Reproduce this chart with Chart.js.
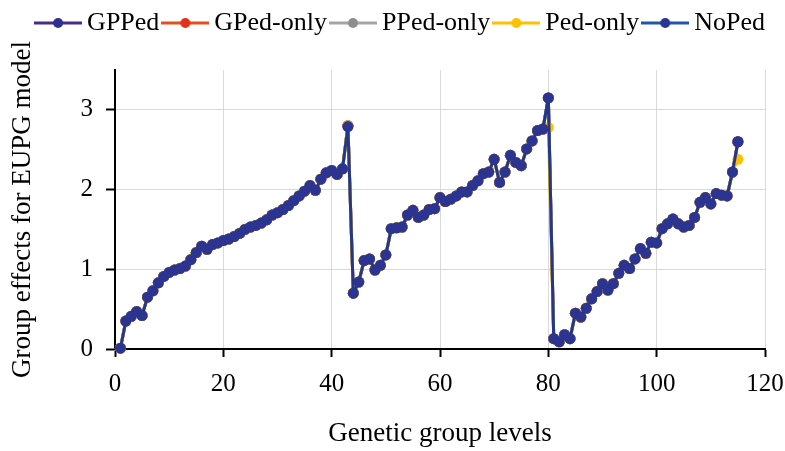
<!DOCTYPE html>
<html>
<head>
<meta charset="utf-8">
<script src="https://cdn.jsdelivr.net/npm/chart.js@4"></script>
<style>
  html, body { margin: 0; padding: 0; background: #fff; }
  #wrap { width: 785px; height: 451px; }
</style>
</head>
<body>
<div id="wrap"><canvas id="chart"></canvas></div>
<script>
// values, genetic group levels 1..115
const noPed = [
  0.01, 0.35, 0.41, 0.47, 0.42, 0.65, 0.73, 0.83, 0.91, 0.96,
  0.99, 1.01, 1.04, 1.12, 1.21, 1.29, 1.25, 1.31, 1.33, 1.36,
  1.38, 1.41, 1.45, 1.50, 1.53, 1.55, 1.58, 1.62, 1.68, 1.71,
  1.75, 1.80, 1.86, 1.92, 1.98, 2.05, 1.99, 2.13, 2.21, 2.24,
  2.19, 2.26, 2.79,
  0.70, 0.84, 1.11, 1.13, 0.99, 1.05, 1.18, 1.51, 1.52, 1.53,
  1.68, 1.74, 1.65, 1.68, 1.75, 1.76, 1.90, 1.85, 1.88, 1.92,
  1.97, 1.97, 2.05, 2.11, 2.20, 2.22, 2.38, 2.09, 2.22, 2.43,
  2.34, 2.30, 2.51, 2.61, 2.74, 2.76, 3.15,
  0.13, 0.09, 0.18, 0.13, 0.45, 0.40, 0.51, 0.63, 0.72, 0.82,
  0.74, 0.82, 0.95, 1.05, 1.01, 1.13, 1.26, 1.20, 1.34, 1.33,
  1.51, 1.57, 1.63, 1.57, 1.53, 1.55, 1.65, 1.84, 1.90, 1.82,
  1.95, 1.93, 1.92, 2.22, 2.60
];

// Ped-only sits under NoPed except at the last two peaks
const pedOnly = [
  0.01, 0.35, 0.41, 0.47, 0.42, 0.65, 0.73, 0.83, 0.91, 0.96,
  0.99, 1.01, 1.04, 1.12, 1.21, 1.29, 1.25, 1.31, 1.33, 1.36,
  1.38, 1.41, 1.45, 1.50, 1.53, 1.55, 1.58, 1.62, 1.68, 1.71,
  1.75, 1.80, 1.86, 1.92, 1.98, 2.05, 1.99, 2.13, 2.21, 2.24,
  2.19, 2.26, 2.80,
  0.70, 0.84, 1.11, 1.13, 0.99, 1.05, 1.18, 1.51, 1.52, 1.53,
  1.68, 1.74, 1.65, 1.68, 1.75, 1.76, 1.90, 1.85, 1.88, 1.92,
  1.97, 1.97, 2.05, 2.11, 2.20, 2.22, 2.38, 2.09, 2.22, 2.43,
  2.34, 2.30, 2.51, 2.61, 2.74, 2.76, 2.78,
  0.13, 0.09, 0.18, 0.13, 0.45, 0.40, 0.51, 0.63, 0.72, 0.82,
  0.74, 0.82, 0.95, 1.05, 1.01, 1.13, 1.26, 1.20, 1.34, 1.33,
  1.51, 1.57, 1.63, 1.57, 1.53, 1.55, 1.65, 1.84, 1.90, 1.82,
  1.95, 1.93, 1.92, 2.22, 2.38
];

// GPPed, GPed-only and PPed-only are hidden under NoPed everywhere
const pedigreeModels = [
  0.01, 0.35, 0.41, 0.47, 0.42, 0.65, 0.73, 0.83, 0.91, 0.96,
  0.99, 1.01, 1.04, 1.12, 1.21, 1.29, 1.25, 1.31, 1.33, 1.36,
  1.38, 1.41, 1.45, 1.50, 1.53, 1.55, 1.58, 1.62, 1.68, 1.71,
  1.75, 1.80, 1.86, 1.92, 1.98, 2.05, 1.99, 2.13, 2.21, 2.24,
  2.19, 2.26, 2.80,
  0.70, 0.84, 1.11, 1.13, 0.99, 1.05, 1.18, 1.51, 1.52, 1.53,
  1.68, 1.74, 1.65, 1.68, 1.75, 1.76, 1.90, 1.85, 1.88, 1.92,
  1.97, 1.97, 2.05, 2.11, 2.20, 2.22, 2.38, 2.09, 2.22, 2.43,
  2.34, 2.30, 2.51, 2.61, 2.74, 2.76, 3.15,
  0.13, 0.09, 0.18, 0.13, 0.45, 0.40, 0.51, 0.63, 0.72, 0.82,
  0.74, 0.82, 0.95, 1.05, 1.01, 1.13, 1.26, 1.20, 1.34, 1.33,
  1.51, 1.57, 1.63, 1.57, 1.53, 1.55, 1.65, 1.84, 1.90, 1.82,
  1.95, 1.93, 1.92, 2.22, 2.60
];

const groupLevels = noPed.map((v, i) => i + 1);

const seriesNames = ['GPPed', 'GPed-only', 'PPed-only', 'Ped-only', 'NoPed'];
const seriesValues = [pedigreeModels, pedigreeModels, pedigreeModels, pedOnly, noPed];
const lineColors = ['#4b2a8c', '#e4501e', '#a5a5a5', '#ffc000', '#2356a8'];
const markerColors = ['#2e2f8f', '#e0311a', '#8e8e8e', '#ffc000', '#2b3490'];
const drawOrder = [4, 3, 2, 1, 0]; // NoPed on top

const FONT = 'Liberation Serif';

// legend symbol: short line with a dot, like the spreadsheet legend
function legendIcon(line, dot) {
    const c = document.createElement('canvas');
    c.width = 48;
    c.height = 14;
    const g = c.getContext('2d');
    g.strokeStyle = line;
    g.lineWidth = 3;
    g.beginPath();
    g.moveTo(0, 7);
    g.lineTo(48, 7);
    g.stroke();
    g.fillStyle = dot;
    g.beginPath();
    g.arc(24, 7, 5, 0, Math.PI * 2);
    g.fill();
    return c;
}

const datasets = seriesNames.map((name, k) => ({
    label: name,
    data: groupLevels.map((x, i) => ({ x: x, y: seriesValues[k][i] })),
    borderColor: k === 4 ? '#22388a' : lineColors[k],
    backgroundColor: markerColors[k],
    pointBackgroundColor: markerColors[k],
    pointBorderColor: markerColors[k],
    borderWidth: 3,
    pointRadius: 5.5,
    pointBorderWidth: 0,
    tension: 0,
    order: drawOrder[k],
    clip: false
}));

const config = {
    type: 'line',
    data: { datasets: datasets },
    options: {
        responsive: true,
        maintainAspectRatio: false,
        animation: false,
        layout: { padding: { left: 6, right: 10, top: 0, bottom: 0 } },
        scales: {
            x: {
                type: 'linear',
                min: 0,
                max: 120,
                ticks: {
                    stepSize: 20,
                    padding: 12,
                    color: '#000',
                    font: { family: FONT, size: 25 }
                },
                grid: {
                    color: '#d9d9d9',
                    lineWidth: 1,
                    tickLength: 8,
                    tickColor: '#000',
                    tickWidth: 2
                },
                border: { color: '#000', width: 2 },
                title: {
                    display: true,
                    text: 'Genetic group levels',
                    color: '#000',
                    font: { family: FONT, size: 27 },
                    padding: { top: 0, bottom: 1 }
                },
                afterFit: function (scale) {
                    scale.height = 102;
                    scale.paddingLeft = 6;
                    scale.paddingRight = 20;
                }
            },
            y: {
                min: 0,
                max: 3.5,
                ticks: {
                    stepSize: 1,
                    includeBounds: false,
                    padding: 13,
                    color: '#000',
                    font: { family: FONT, size: 25 }
                },
                grid: {
                    color: '#d9d9d9',
                    lineWidth: 1,
                    tickLength: 9,
                    tickColor: '#000',
                    tickWidth: 2
                },
                border: { color: '#000', width: 2 },
                title: {
                    display: true,
                    text: 'Group effects for EUPG model',
                    color: '#000',
                    font: { family: FONT, size: 27 },
                    padding: { top: 1, bottom: 0 }
                },
                afterFit: function (scale) {
                    scale.width = 109;
                }
            }
        },
        plugins: {
            legend: {
                position: 'top',
                align: 'end',
                weight: 3000,
                labels: {
                    usePointStyle: true,
                    pointStyleWidth: 32,
                    padding: 10,
                    color: '#000',
                    font: { family: FONT, size: 26 },
                    generateLabels: function (chart) {
                        return chart.data.datasets.map((ds, i) => ({
                            text: ds.label,
                            datasetIndex: i,
                            pointStyle: legendIcon(lineColors[i], markerColors[i]),
                            fillStyle: markerColors[i],
                            strokeStyle: lineColors[i],
                            lineWidth: 0,
                            fontColor: '#000',
                            hidden: false
                        }));
                    }
                }
            },
            // empty spacer between the legend and the plot
            subtitle: {
                display: true,
                text: '',
                padding: 0,
                font: { family: FONT, size: 20, lineHeight: 1.2 }
            },
            tooltip: { enabled: false }
        }
    }
};

new Chart(document.getElementById('chart').getContext('2d'), config);
</script>
</body>
</html>
